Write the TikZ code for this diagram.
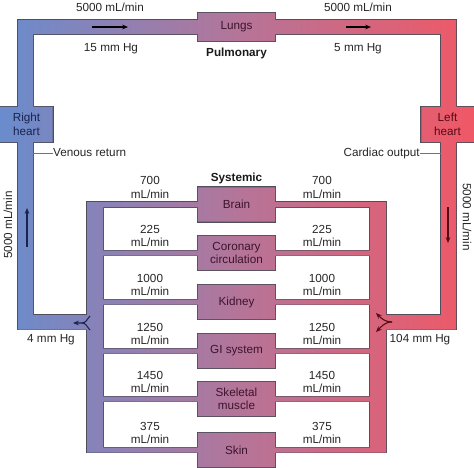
\documentclass[tikz,border=0pt]{standalone}
\usepackage{fontspec}
\setmainfont{Liberation Sans}
\usetikzlibrary{arrows.meta, backgrounds, calc}

\definecolor{veinblue}{RGB}{105,140,205}
\definecolor{mixmauve}{RGB}{180,117,153}
\definecolor{arteryred}{RGB}{240,88,102}
\definecolor{wallgray}{RGB}{80,78,90}
\definecolor{veintext}{RGB}{25,35,75}
\definecolor{mixtext}{RGB}{60,20,45}
\definecolor{arterytext}{RGB}{85,10,22}

\tikzset{
  flowtext/.style={font=\fontsize{10}{11.5}\selectfont, text=black!85, align=center, inner sep=0pt},
  headtext/.style={font=\fontsize{10}{12}\selectfont\bfseries, text=black!90, inner sep=0pt},
  organbox/.style={minimum width=2.31cm, minimum height=1.02cm, inner sep=0pt, align=center,
    font=\fontsize{10}{11.5}\selectfont, text=mixtext},
  heartbox/.style={organbox, minimum width=1.56cm, minimum height=1.05cm},
  flowarrow/.style={line width=0.9pt, -{Stealth[length=5pt, width=4pt]}},
  leader/.style={line width=0.5pt, black!55}
}

% Umriss aller Gefaesse und Kaesten (ein Pfad, damit der Verlauf durchgeht)
\newcommand{\bloodpath}{
  (18,20) rectangle (456,34)
  (18,20) rectangle (33,329.5)
  (441,20) rectangle (456,329.5)
  (18,315) rectangle (87,329.5)
  (386,315) rectangle (456,329.5)
  (87,202) rectangle (103,452.5)
  (370,202) rectangle (386,452.5)
  (lungs.north west) rectangle (lungs.south east)
  (rheart.north west) rectangle (rheart.south east)
  (lheart.north west) rectangle (lheart.south east)
  \foreach \cy in {204.5,253,302,351,399,450} {(87,\cy-2.5) rectangle (386,\cy+2.5)}
  \foreach \nm in {brain,coronary,kidney,gi,skeletal,skin} {(\nm.north west) rectangle (\nm.south east)}
}

\begin{document}
\begin{tikzpicture}[x=0.03cm, y=-0.03cm]
  \useasboundingbox (0,0) rectangle (474,467);

  % Kaesten
  \node (lungs) [organbox, minimum height=0.84cm] at (236.5,27) {Lungs};
  \node (rheart) [heartbox, text=veintext] at (26.5,124.5) {Right\\heart};
  \node (lheart) [heartbox, text=arterytext] at (447.5,124.5) {Left\\heart};
  \foreach \nm/\txt/\cy in {brain/Brain/204.5, coronary/{Coronary\\circulation}/253,
      kidney/Kidney/302, gi/GI system/351, skeletal/{Skeletal\\muscle}/399, skin/Skin/450}
    \node (\nm) [organbox] at (236.5,\cy) {\txt};

  % Gefaesse im Hintergrund
  \begin{scope}[on background layer]
    \draw[line width=1.4pt, wallgray] \bloodpath;
    \shade[left color=veinblue, right color=arteryred, middle color=mixmauve] \bloodpath;
  \end{scope}

  % Kreislauf oben
  \node (pflowl) [flowtext] at (110,7) {5000 mL/min};
  \node (pflowr) [flowtext] at (358,7) {5000 mL/min};
  \node (ppressl) [flowtext] at (111,49) {15 mm Hg};
  \node (ppressr) [flowtext] at (358,49) {5 mm Hg};
  \node (pulm) [headtext] at (236.5,53) {Pulmonary};
  \draw[flowarrow, black] (92,27) -- (128,27);
  \draw[flowarrow, black] (346,27) -- (371,27);

  % Herz
  \node (venous) [flowtext, anchor=west] at (53,153) {Venous return};
  \node (cardiac) [flowtext, anchor=east] at (420,153) {Cardiac output};
  \draw[leader] (33,153) -- (venous.west);
  \draw[leader] (cardiac.east) -- (441,153);
  \node (vflow) [flowtext, rotate=90] at (8,225) {5000 mL/min};
  \node (aflow) [flowtext, rotate=-90] at (467,217) {5000 mL/min};
  \draw[flowarrow, veintext] (27,247) -- (27,208);
  \draw[flowarrow, arterytext] (448,207) -- (448,243);

  % Koerperkreislauf
  \node (syst) [headtext] at (236.5,178) {Systemic};
  \foreach \cy/\fl in {204.5/700, 253/225, 302/1000, 351/1250, 399/1450, 450/375} {
    \node (in\fl) [flowtext] at (150,\cy-17) {\fl\\mL/min};
    \node (out\fl) [flowtext] at (322,\cy-17) {\fl\\mL/min};
  }
  \node (vpress) [flowtext] at (51,340) {4 mm Hg};
  \node (apress) [flowtext] at (420,340) {104 mm Hg};

  % Zusammenfluss und Verzweigung
  \draw[flowarrow, veintext] (90,316) to[out=-135, in=0] (82,323) -- (73,323);
  \draw[line width=0.9pt, veintext] (90,330) to[out=135, in=0] (82,323);
  \draw[flowarrow, arterytext] (392,322) to[out=180, in=-45] (376,313);
  \draw[flowarrow, arterytext] (392,322) to[out=180, in=45] (376,332);
\end{tikzpicture}
\end{document}
